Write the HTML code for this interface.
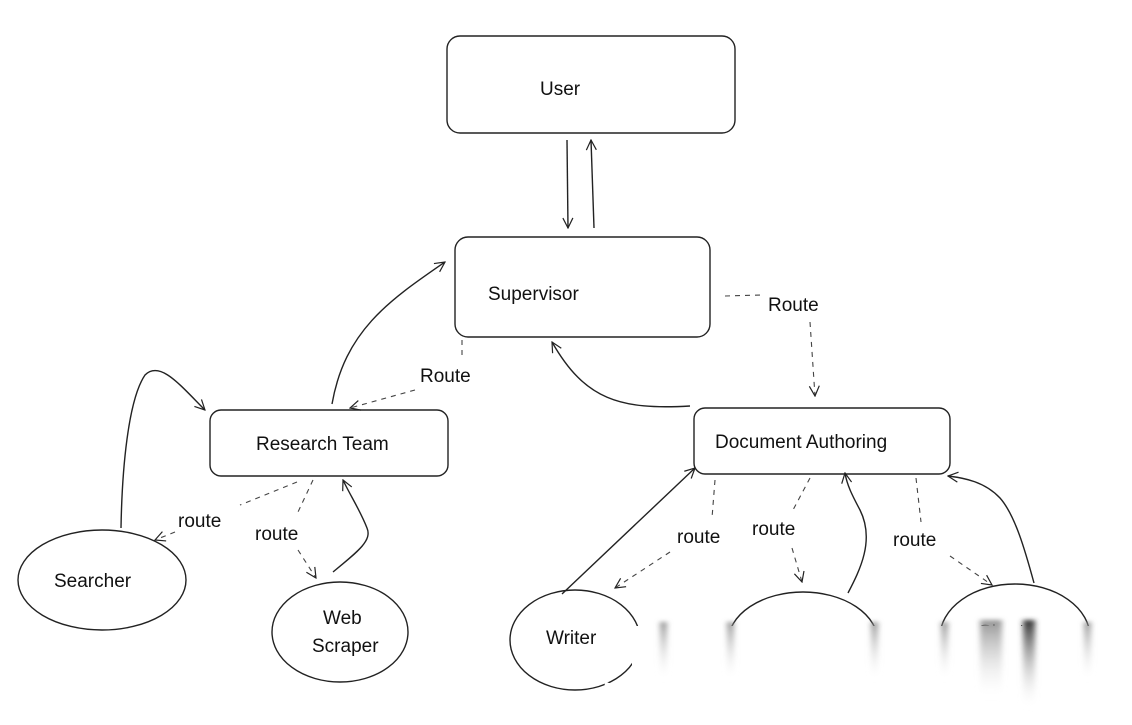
<!DOCTYPE html>
<html><head><meta charset="utf-8"><style>
html,body{margin:0;padding:0;background:#fff;}
svg{display:block}
text{font-family:"Liberation Sans",sans-serif;font-size:19px;fill:#111;}
</style></head><body>
<svg width="1132" height="725" viewBox="0 0 1132 725" xmlns="http://www.w3.org/2000/svg">
<defs>
<marker id="a" viewBox="0 0 12 12" refX="11" refY="6" markerWidth="12" markerHeight="12" orient="auto" markerUnits="userSpaceOnUse">
<path d="M1,1 L11,6 L1,11" fill="none" stroke="#222" stroke-width="1.2"/></marker>
<linearGradient id="s" x1="0" y1="0" x2="0" y2="1">
<stop offset="0" stop-color="#888" stop-opacity="0.9"/><stop offset="1" stop-color="#fff" stop-opacity="0"/></linearGradient>
<linearGradient id="s2" x1="0" y1="0" x2="0" y2="1">
<stop offset="0" stop-color="#333" stop-opacity="1"/><stop offset="1" stop-color="#fff" stop-opacity="0"/></linearGradient>
<filter id="b" x="-100%" y="-20%" width="300%" height="140%"><feGaussianBlur stdDeviation="3,2"/></filter>
</defs>
<g fill="none" stroke="#222" stroke-width="1.4">
<rect x="447" y="36" width="288" height="97" rx="13"/>
<rect x="455" y="237" width="255" height="100" rx="13"/>
<rect x="210" y="410" width="238" height="66" rx="11"/>
<rect x="694" y="408" width="256" height="66" rx="11"/>
<ellipse cx="102" cy="580" rx="84" ry="50"/>
<ellipse cx="340" cy="632" rx="68" ry="50"/>
<ellipse cx="575" cy="640" rx="65" ry="50"/>
<ellipse cx="803" cy="642" rx="75" ry="50"/>
<ellipse cx="1015" cy="637" rx="75" ry="53"/>
<path d="M567,140 L568,228" marker-end="url(#a)"/>
<path d="M594,228 L591,140" marker-end="url(#a)"/>
<path d="M332,404 C345,330 390,300 445,262" marker-end="url(#a)"/>
<path d="M690,406 C620,410 585,400 552,342" marker-end="url(#a)"/>
<path d="M121,528 C122,470 128,400 145,375 C160,360 180,385 205,410" marker-end="url(#a)"/>
<path d="M333,572 C360,550 372,540 367,528 C360,510 350,495 343,480" marker-end="url(#a)"/>
<path d="M562,594 L695,468" marker-end="url(#a)"/>
<path d="M848,593 C860,570 875,540 860,510 C852,495 847,485 845,473" marker-end="url(#a)"/>
<path d="M1034,583 C1025,550 1015,515 1000,498 C985,482 965,478 948,476" marker-end="url(#a)"/>
</g>
<g fill="none" stroke="#444" stroke-width="1.1" stroke-dasharray="5,5">
<path d="M725,296 L763,295"/>
<path d="M810,322 L815,396" marker-end="url(#a)"/>
<path d="M462,340 L462,360"/>
<path d="M415,390 L350,408" marker-end="url(#a)"/>
<path d="M297,482 L240,505"/>
<path d="M175,532 L155,540" marker-end="url(#a)"/>
<path d="M313,480 L298,512"/>
<path d="M298,550 L316,578" marker-end="url(#a)"/>
<path d="M715,480 L712,518"/>
<path d="M670,552 L615,588" marker-end="url(#a)"/>
<path d="M810,478 L793,510"/>
<path d="M792,548 L802,582" marker-end="url(#a)"/>
<path d="M916,478 L921,522"/>
<path d="M950,556 L992,585" marker-end="url(#a)"/>
</g>
<text x="540" y="95">User</text>
<text x="488" y="300">Supervisor</text>
<text x="768" y="311">Route</text>
<text x="420" y="382">Route</text>
<text x="256" y="450">Research Team</text>
<text x="715" y="448">Document Authoring</text>
<text x="178" y="527">route</text>
<text x="255" y="540">route</text>
<text x="677" y="543">route</text>
<text x="752" y="535">route</text>
<text x="893" y="546">route</text>
<text x="54" y="587">Searcher</text>
<text x="323" y="624">Web</text>
<text x="312" y="652">Scraper</text>
<text x="546" y="644">Writer</text>
<text x="978" y="638">Chart</text>
<rect x="632" y="626" width="500" height="99" fill="#fff"/>
<path d="M605,682 Q640,690 680,700 L680,725 L600,725 Z" fill="#fff"/>
<g filter="url(#b)">
<rect x="660" y="622" width="7" height="60" fill="url(#s)"/>
<rect x="727" y="622" width="7" height="60" fill="url(#s)"/>
<rect x="871" y="622" width="7" height="60" fill="url(#s)"/>
<rect x="941" y="622" width="7" height="60" fill="url(#s)"/>
<rect x="980" y="620" width="22" height="80" fill="url(#s)"/>
<rect x="1023" y="620" width="12" height="90" fill="url(#s2)"/>
<rect x="1084" y="622" width="7" height="60" fill="url(#s)"/>
</g>
</svg>
</body></html>
